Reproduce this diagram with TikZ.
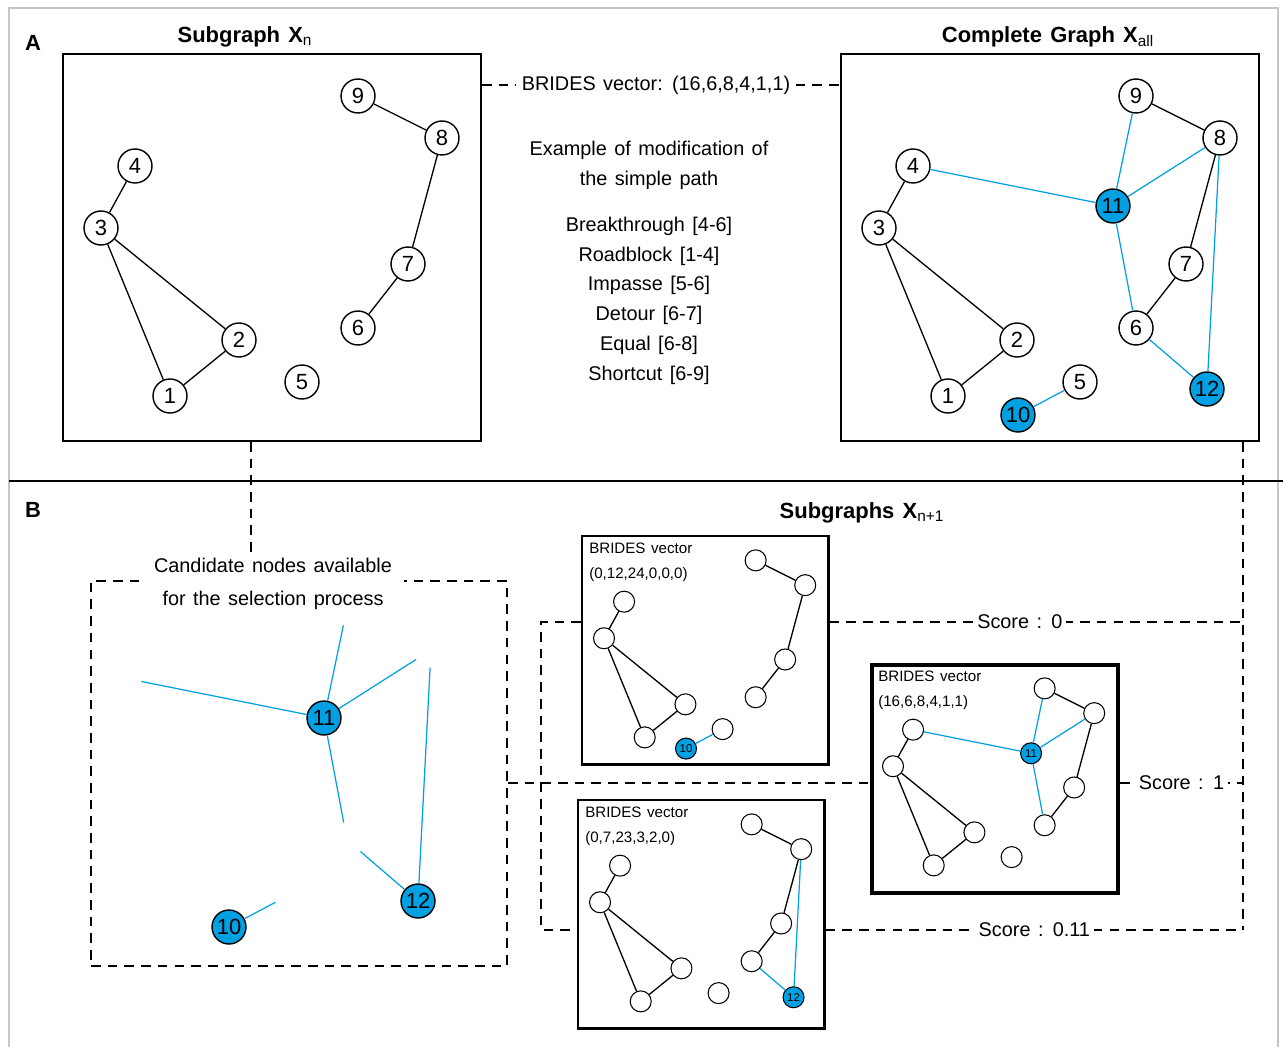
\documentclass[tikz,border=0pt]{standalone}
\usepackage{fontspec}
\setmainfont{Liberation Sans}[WordSpace=1.35]
\usepackage{tikz}
\usetikzlibrary{positioning}
\definecolor{nodeBlue}{HTML}{00A0E3}
% the nine vertices of X_n, laid out in a 418 x 387 frame
\newcommand{\basenodes}[3]{%
  \foreach \n/\x/\y in {1/108/343,2/177/287,3/39/175,4/73/113,5/240/329,
                        6/296/275,7/346/211,8/380/85,9/296/43}
    \node[#2] (#1\n) at (\x,\y) {#3};
  \foreach \a/\b in {1/2,1/3,2/3,3/4,6/7,7/8,8/9}
    \draw[wire] (#1\a) -- (#1\b);
}

\begin{document}
\begin{tikzpicture}[
  x=0.02cm, y=-0.02cm,
  font=\fontsize{11.3}{17}\selectfont,
  vtx/.style={circle, draw, line width=0.8pt, fill=white, minimum size=0.68cm,
    inner sep=0pt, font=\fontsize{12.5}{12.5}\selectfont},
  newvtx/.style={vtx, fill=nodeBlue},
  ghostvtx/.style={vtx, draw=none, fill=none},
  minivtx/.style={circle, draw, line width=0.6pt, fill=white, minimum size=0.42cm,
    inner sep=0pt, font=\fontsize{6.5}{6.5}\selectfont},
  newminivtx/.style={minivtx, fill=nodeBlue},
  wire/.style={line width=0.75pt},
  newwire/.style={draw=nodeBlue, line width=0.7pt},
  bigframe/.style={draw, line width=1.1pt, minimum width=8.36cm, minimum height=7.74cm,
    anchor=north west, inner sep=0pt},
  miniframe/.style={draw, line width=1.3pt, minimum width=4.93cm, minimum height=4.57cm,
    anchor=north west, inner sep=0pt},
  link/.style={dash pattern=on 5.5pt off 4pt, line width=1.2pt},
  headline/.style={font=\fontsize{12.5}{14}\selectfont\bfseries},
  vectag/.style={font=\fontsize{8.6}{14}\selectfont, align=left, inner sep=0pt},
  score/.style={fill=white, inner sep=2pt}
]
\useasboundingbox (0,0) rectangle (1283,1047);
\draw[gray!45, line width=0.6pt] (9,1047) |- (1278,8) -- (1278,1047);
\draw[line width=1.3pt] (9,481) -- (1283,481);

\coordinate (tap) at (251,0);
\coordinate (spine) at (541,0);
\coordinate (rail) at (1243,0);
\coordinate (ya) at (0,622);
\coordinate (yb) at (0,783);
\coordinate (yc) at (0,930);

% ---- A
\node[font=\fontsize{12.5}{14}\selectfont\bfseries] (la) at (33,43) {A};
\node[headline] (tn) at (245,37) {Subgraph X\textsubscript{\mdseries n}};
\node[headline] (tall) at (1048,37) {Complete Graph X\textsubscript{\mdseries all}};

\begin{scope}[shift={(62,53)}]
  \node[bigframe] (boxn) at (0,0) {};
  \basenodes{xn}{vtx}{\n}
\end{scope}

\begin{scope}[shift={(840,53)}]
  \node[bigframe] (boxall) at (0,0) {};
  \basenodes{xa}{vtx}{\n}
  \node[newvtx] (xa10) at (178,362) {10};
  \node[newvtx] (xa11) at (273,153) {11};
  \node[newvtx] (xa12) at (367,336) {12};
  \foreach \a/\b in {11/4,11/9,11/8,11/6,12/8,12/6,10/5}
    \draw[newwire] (xa\a) -- (xa\b);
\end{scope}

\node[fill=white, inner sep=3pt] (brides) at (656,85) {BRIDES vector: (16,6,8,4,1,1)};
\draw[link] (boxn.east |- brides) -- (brides.west);
\draw[link] (brides.east) -- (boxall.west |- brides);

\node[align=center] (mods) at (649,263) {Example of modification of\\the simple path\\[9pt]
  Breakthrough [4-6]\\Roadblock [1-4]\\Impasse [5-6]\\Detour [6-7]\\Equal [6-8]\\Shortcut [6-9]};

% ---- B
\node[font=\fontsize{12.5}{14}\selectfont\bfseries] (lb) at (33,510) {B};
\node[headline] (tnext) at (862,513) {Subgraphs X\textsubscript{\mdseries n+1}};

\node[draw, link, minimum width=8.32cm, minimum height=7.7cm, anchor=north west,
  inner sep=0pt] (cand) at (90,580) {};
\node[fill=white, align=center, font=\fontsize{11.3}{18.5}\selectfont, inner xsep=7pt]
  (candtxt) at (273,584) {Candidate nodes available\\for the selection process};
\draw[link] (tap |- boxn.south) -- (tap |- candtxt.north);

\begin{scope}[shift={(51,565)}]
  \foreach \n/\x/\y in {4/73/113,5/240/329,6/296/275,8/380/85,9/296/43}
    \node[ghostvtx] (cd\n) at (\x,\y) {};
  \node[newvtx] (cd10) at (178,362) {10};
  \node[newvtx] (cd11) at (273,153) {11};
  \node[newvtx] (cd12) at (367,336) {12};
  \foreach \a/\b in {11/4,11/9,11/8,11/6,12/8,12/6,10/5}
    \draw[newwire] (cd\a) -- (cd\b);
\end{scope}

\begin{scope}[shift={(581,535)}, scale=0.59]
  \node[miniframe] (boxa) at (0,0) {};
  \basenodes{sa}{minivtx}{}
  \node[newminivtx] (sa10) at (178,362) {10};
  \draw[newwire] (sa10) -- (sa5);
\end{scope}

\begin{scope}[shift={(870,663)}, scale=0.59]
  \node[miniframe, line width=2pt] (boxb) at (0,0) {};
  \basenodes{sb}{minivtx}{}
  \node[newminivtx] (sb11) at (273,153) {11};
  \foreach \b in {4,9,8,6}
    \draw[newwire] (sb11) -- (sb\b);
\end{scope}

\begin{scope}[shift={(577,799)}, scale=0.59]
  \node[miniframe] (boxc) at (0,0) {};
  \basenodes{sc}{minivtx}{}
  \node[newminivtx] (sc12) at (367,336) {12};
  \foreach \b in {8,6}
    \draw[newwire] (sc12) -- (sc\b);
\end{scope}

\node[vectag, below right=4.5pt and 4.5pt of boxa.north west] (taga) {BRIDES vector\\(0,12,24,0,0,0)};
\node[vectag, below right=4.5pt and 4.5pt of boxb.north west] (tagb) {BRIDES vector\\(16,6,8,4,1,1)};
\node[vectag, below right=4.5pt and 4.5pt of boxc.north west] (tagc) {BRIDES vector\\(0,7,23,3,2,0)};

\draw[link] (cand.east |- yb) -- (boxb.west |- yb);
\draw[link] (boxa.west |- ya) -| (spine |- yc) -- (boxc.west |- yc);
\draw[link] (rail |- boxall.south) -- (rail |- yc);
\draw[link] (boxa.east |- ya) -- node[score, pos=0.46] {Score : 0} (rail |- ya);
\draw[link] (boxb.east |- yb) -- node[score] {Score : 1} (rail |- yb);
\draw[link] (boxc.east |- yc) -- node[score] {Score : 0.11} (rail |- yc);
\end{tikzpicture}
\end{document}
